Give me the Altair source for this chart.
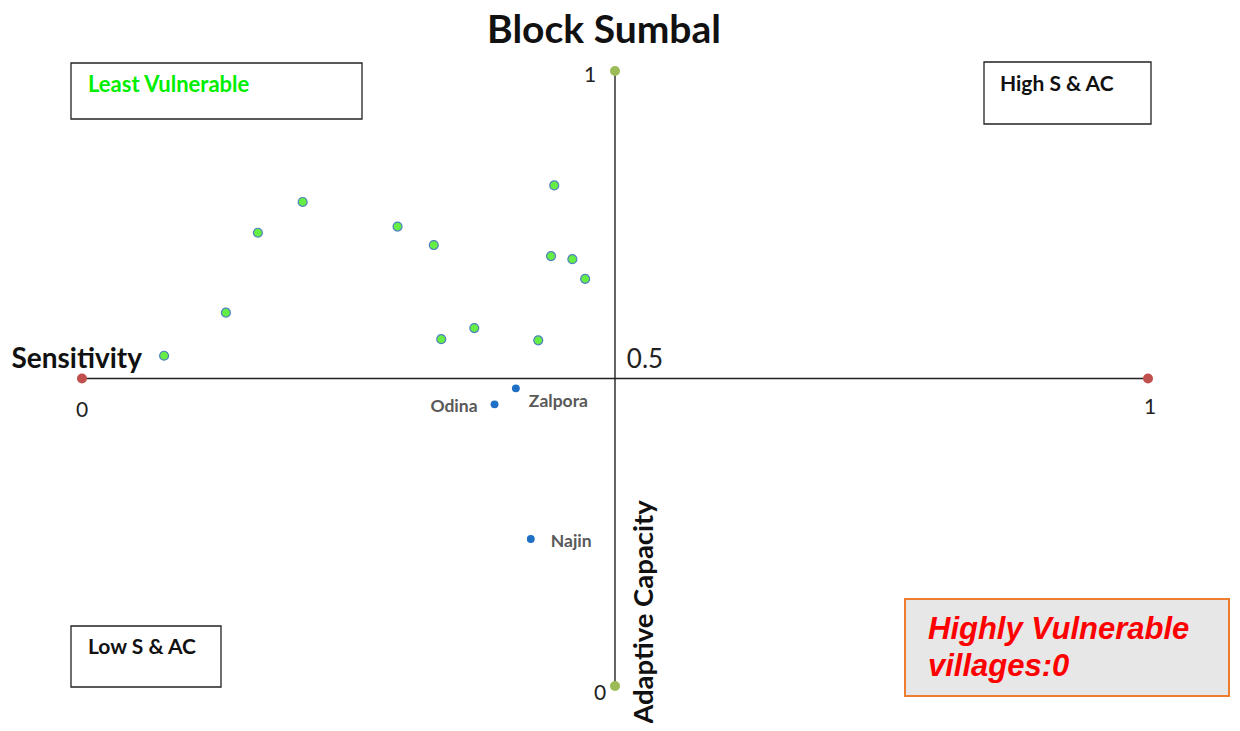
import altair as alt
import pandas as pd

# ---- data ----
sens_green = [0.077, 0.135, 0.165, 0.207, 0.296, 0.330, 0.337, 0.368, 0.428, 0.443, 0.440, 0.460, 0.472]
ac_green = [0.537, 0.607, 0.737, 0.787, 0.747, 0.717, 0.564, 0.582, 0.562, 0.814, 0.699, 0.694, 0.662]

blue_names = ["Zalpora", "Odina", "Najin"]
sens_blue = [0.407, 0.387, 0.421]
ac_blue = [0.484, 0.458, 0.239]

axis_min, axis_mid, axis_max = 0, 0.5, 1

FONT = "Lato"

green_df = pd.DataFrame({"s": sens_green, "ac": ac_green})
blue_df = pd.DataFrame({"name": blue_names, "s": sens_blue, "ac": ac_blue})

xs = alt.Scale(domain=[axis_min, axis_max], nice=False, zero=False)
ys = alt.Scale(domain=[axis_min, axis_max], nice=False, zero=False)
X = lambda f: alt.X(f, type="quantitative", scale=xs, axis=None)
Y = lambda f: alt.Y(f, type="quantitative", scale=ys, axis=None)

one = pd.DataFrame({"k": [0]})

# axes
hline_df = pd.DataFrame({"x": [axis_min], "x2": [axis_max], "y": [axis_mid]})
vline_df = pd.DataFrame({"x": [axis_mid], "y": [axis_min], "y2": [axis_max]})
hline = alt.Chart(hline_df).mark_rule(color="#222222", strokeWidth=1.4).encode(
    x=X("x"), x2="x2", y=Y("y"))
vline = alt.Chart(vline_df).mark_rule(color="#222222", strokeWidth=1.4).encode(
    x=X("x"), y=Y("y"), y2="y2")

ends_h = pd.DataFrame({"x": [axis_min, axis_max], "y": [axis_mid, axis_mid]})
ends_v = pd.DataFrame({"x": [axis_mid, axis_mid], "y": [axis_min, axis_max]})
dots_h = alt.Chart(ends_h).mark_circle(size=100, color="#c0504d", opacity=1).encode(x=X("x"), y=Y("y"))
dots_v = alt.Chart(ends_v).mark_circle(size=100, color="#9bbb59", opacity=1).encode(x=X("x"), y=Y("y"))

# tick labels
def tick(xv, yv, label, dx, dy, size=21):
    d = pd.DataFrame({"x": [xv], "y": [yv], "t": [label]})
    return alt.Chart(d).mark_text(font=FONT, fontSize=size, color="#222222",
                                  dx=dx, dy=dy, baseline="middle", align="center").encode(
        x=X("x"), y=Y("y"), text="t:N")

ticks = [
    tick(axis_min, axis_mid, "0", 0, 32),
    tick(axis_max, axis_mid, "1", 2, 29),
    tick(axis_mid, axis_mid, "0.5", 30, -19, 26),
    tick(axis_mid, axis_max, "1", -25, 5),
    tick(axis_mid, axis_min, "0", -15, 8),
]

# points
green_pts = alt.Chart(green_df).mark_point(
    filled=True, shape="circle", size=80, fill="#66ee44", stroke="#4f81bd",
    strokeWidth=1.2, opacity=1).encode(x=X("s"), y=Y("ac"))

blue_pts = alt.Chart(blue_df).mark_circle(size=62, color="#1f6fc4", opacity=1).encode(
    x=X("s"), y=Y("ac"))

lab_style = dict(font=FONT, fontSize=17.5, fontWeight="bold", color="#595959", baseline="middle")
lab_z = alt.Chart(blue_df[blue_df.name == "Zalpora"]).mark_text(align="left", dx=13, dy=14, **lab_style).encode(
    x=X("s"), y=Y("ac"), text="name:N")
lab_o = alt.Chart(blue_df[blue_df.name == "Odina"]).mark_text(align="right", dx=-17, dy=3, **lab_style).encode(
    x=X("s"), y=Y("ac"), text="name:N")
lab_n = alt.Chart(blue_df[blue_df.name == "Najin"]).mark_text(align="left", dx=20, dy=3, **lab_style).encode(
    x=X("s"), y=Y("ac"), text="name:N")

# annotation boxes (pixel positions in the plot area)
def box(x1, x2, y1, y2, fill="white", stroke="#222222", sw=1.3):
    return alt.Chart(one).mark_rect(fill=fill, stroke=stroke, strokeWidth=sw).encode(
        x=alt.value(x1), x2=alt.value(x2), y=alt.value(y1), y2=alt.value(y2))

def label(x, y, txt, size, color="#111111", weight="bold", style="normal", font=FONT,
          align="left", angle=0, baseline="middle"):
    return alt.Chart(one).mark_text(font=font, fontSize=size, fontWeight=weight, fontStyle=style,
                                    color=color, align=align, baseline=baseline, angle=angle).encode(
        x=alt.value(x), y=alt.value(y), text=alt.value(txt))

annos = [
    box(-11, 280, -8, 48),
    label(6, 14, "Least Vulnerable", 22, color="#00ee00"),
    box(902, 1069, -9, 53),
    label(918, 14, "High S & AC", 21),
    box(-11, 139, 555, 616),
    label(6, 577, "Low S & AC", 21),
    box(823, 1147, 528, 625, fill="#e7e7e7", stroke="#ed7d31", sw=2),
    label(846, 559, "Highly Vulnerable", 31, color="#ff0000", style="italic", font="Liberation Sans"),
    label(846, 596, "villages:0", 31, color="#ff0000", style="italic", font="Liberation Sans"),
    label(60, 289, "Sensitivity", 28, align="right"),
    label(563, 541, "Adaptive Capacity", 27.5, align="center", angle=270),
    label(522, -28, "Block Sumbal", 39, align="center", baseline="alphabetic"),
]

chart = alt.layer(
    *annos, hline, vline, dots_h, dots_v, *ticks, green_pts, blue_pts, lab_z, lab_o, lab_n
).properties(
    width=1066, height=615,
    autosize=alt.AutoSizeParams(type="none"),
    padding={"left": 74, "top": 63, "right": 84, "bottom": 37},
).configure(background="white", view=alt.ViewConfig(stroke=None))

chart.save("out.html", embed_options={"renderer": "svg", "actions": False})
